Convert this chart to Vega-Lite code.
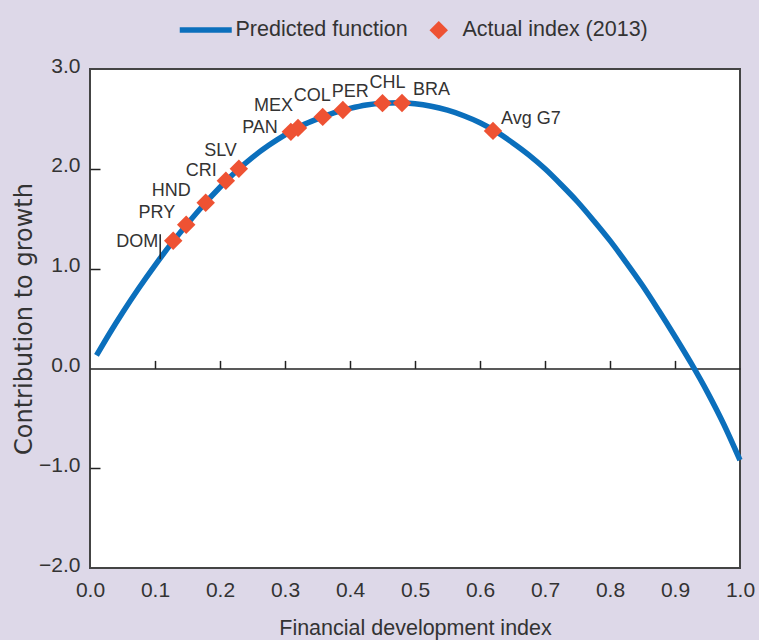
{
  "$schema": "https://vega.github.io/schema/vega-lite/v6.json",
  "width": 650,
  "height": 499,
  "autosize": {"type": "none"},
  "padding": {"left": 90, "top": 69, "right": 19, "bottom": 72},
  "background": "#ddd8e8",
  "config": {
    "view": {"fill": "#ffffff", "stroke": "#444444", "strokeWidth": 2},
    "text": {"font": "Liberation Sans"}
  },
  "datasets": {
    "curve": [
      {"x": 0.01, "y": 0.13, "series": "Predicted function"},
      {"x": 0.03, "y": 0.35, "series": "Predicted function"},
      {"x": 0.05, "y": 0.558, "series": "Predicted function"},
      {"x": 0.075, "y": 0.803, "series": "Predicted function"},
      {"x": 0.1, "y": 1.033, "series": "Predicted function"},
      {"x": 0.125, "y": 1.25, "series": "Predicted function"},
      {"x": 0.15, "y": 1.45, "series": "Predicted function"},
      {"x": 0.175, "y": 1.64, "series": "Predicted function"},
      {"x": 0.2, "y": 1.815, "series": "Predicted function"},
      {"x": 0.225, "y": 1.975, "series": "Predicted function"},
      {"x": 0.25, "y": 2.115, "series": "Predicted function"},
      {"x": 0.275, "y": 2.235, "series": "Predicted function"},
      {"x": 0.3, "y": 2.34, "series": "Predicted function"},
      {"x": 0.325, "y": 2.43, "series": "Predicted function"},
      {"x": 0.35, "y": 2.5, "series": "Predicted function"},
      {"x": 0.375, "y": 2.56, "series": "Predicted function"},
      {"x": 0.4, "y": 2.605, "series": "Predicted function"},
      {"x": 0.425, "y": 2.64, "series": "Predicted function"},
      {"x": 0.45, "y": 2.658, "series": "Predicted function"},
      {"x": 0.475, "y": 2.662, "series": "Predicted function"},
      {"x": 0.5, "y": 2.652, "series": "Predicted function"},
      {"x": 0.525, "y": 2.627, "series": "Predicted function"},
      {"x": 0.55, "y": 2.587, "series": "Predicted function"},
      {"x": 0.575, "y": 2.532, "series": "Predicted function"},
      {"x": 0.6, "y": 2.462, "series": "Predicted function"},
      {"x": 0.625, "y": 2.372, "series": "Predicted function"},
      {"x": 0.65, "y": 2.262, "series": "Predicted function"},
      {"x": 0.675, "y": 2.14, "series": "Predicted function"},
      {"x": 0.7, "y": 2.0, "series": "Predicted function"},
      {"x": 0.725, "y": 1.84, "series": "Predicted function"},
      {"x": 0.75, "y": 1.67, "series": "Predicted function"},
      {"x": 0.775, "y": 1.48, "series": "Predicted function"},
      {"x": 0.8, "y": 1.28, "series": "Predicted function"},
      {"x": 0.825, "y": 1.06, "series": "Predicted function"},
      {"x": 0.85, "y": 0.83, "series": "Predicted function"},
      {"x": 0.875, "y": 0.58, "series": "Predicted function"},
      {"x": 0.9, "y": 0.32, "series": "Predicted function"},
      {"x": 0.925, "y": 0.05, "series": "Predicted function"},
      {"x": 0.95, "y": -0.24, "series": "Predicted function"},
      {"x": 0.975, "y": -0.56, "series": "Predicted function"},
      {"x": 1.0, "y": -0.92, "series": "Predicted function"}
    ],
    "countries": [
      {"code": "DOM", "x": 0.128, "y": 1.28, "series": "Actual index (2013)"},
      {"code": "PRY", "x": 0.148, "y": 1.44, "series": "Actual index (2013)"},
      {"code": "HND", "x": 0.178, "y": 1.66, "series": "Actual index (2013)"},
      {"code": "CRI", "x": 0.209, "y": 1.88, "series": "Actual index (2013)"},
      {"code": "SLV", "x": 0.229, "y": 2.0, "series": "Actual index (2013)"},
      {"code": "PAN", "x": 0.309, "y": 2.37, "series": "Actual index (2013)"},
      {"code": "MEX", "x": 0.32, "y": 2.41, "series": "Actual index (2013)"},
      {"code": "COL", "x": 0.358, "y": 2.52, "series": "Actual index (2013)"},
      {"code": "PER", "x": 0.389, "y": 2.59, "series": "Actual index (2013)"},
      {"code": "CHL", "x": 0.45, "y": 2.658, "series": "Actual index (2013)"},
      {"code": "BRA", "x": 0.48, "y": 2.66, "series": "Actual index (2013)"},
      {"code": "Avg G7", "x": 0.62, "y": 2.38, "series": "Actual index (2013)"}
    ]
  },
  "resolve": {"axis": {"x": "independent", "y": "independent"}},
  "layer": [
    {
      "data": {"name": "curve"},
      "mark": {"type": "line", "strokeWidth": 5.5, "interpolate": "monotone"},
      "encoding": {
        "x": {"field": "x", "type": "quantitative", "scale": {"domain": [0, 1], "nice": false},
          "axis": {"orient": "bottom", "values": [0, 0.1, 0.2, 0.3, 0.4, 0.5, 0.6, 0.7, 0.8, 0.9, 1.0], "format": ".1f",
            "grid": false, "ticks": false, "domain": false, "labelFlush": false, "labelOverlap": false,
            "labelFont": "Liberation Sans", "labelFontSize": 21, "labelColor": "#333333", "labelPadding": 11,
            "title": "Financial development index", "titleFont": "Liberation Sans", "titleFontSize": 21.5,
            "titleFontWeight": "normal", "titleColor": "#333333", "titlePadding": 17}},
        "y": {"field": "y", "type": "quantitative", "scale": {"domain": [-2, 3], "nice": false},
          "axis": {"orient": "left", "values": [-2, -1, 0, 1, 2, 3], "format": ".1f",
            "grid": false, "ticks": false, "domain": false, "labelOverlap": false, "labelFlush": false,
            "labelFont": "Liberation Sans", "labelFontSize": 21, "labelColor": "#333333", "labelPadding": 10,
            "labelOffset": -3,
            "title": "Contribution to growth", "titleFont": "DejaVu Sans", "titleFontSize": 24,
            "titleFontWeight": "normal", "titleColor": "#333333", "titlePadding": 2}},
        "color": {"field": "series", "type": "nominal",
          "scale": {"domain": ["Predicted function", "Actual index (2013)"], "range": ["#0b6fbc", "#ee5233"]},
          "legend": {"orient": "none", "legendX": 105, "legendY": -50, "direction": "horizontal", "title": null,
            "labelFont": "Liberation Sans", "labelFontSize": 21.5, "labelColor": "#333333", "labelOffset": 6,
            "labelLimit": 0, "columnPadding": 20, "padding": 0, "symbolStrokeWidth": 5,
            "encode": {
              "symbols": {"update": {
                "fill": {"scale": "color", "field": "value"},
                "stroke": {"scale": "color", "field": "value"},
                "opacity": {"value": 1},
                "strokeWidth": {"signal": "datum.value === 'Predicted function' ? 5.5 : 0"}}},
              "labels": {"update": {
                "dx": {"signal": "datum.value === 'Predicted function' ? 13 : 7"}}}}}}
      }
    },
    {
      "data": {"name": "countries"},
      "mark": {"type": "point", "filled": true, "opacity": 1},
      "encoding": {
        "x": {"field": "x", "type": "quantitative",
          "axis": {"orient": "top", "offset": -299.4, "values": [0.1, 0.2, 0.3, 0.4, 0.5, 0.6, 0.7, 0.8, 0.9],
            "labels": false, "title": null, "grid": false, "domain": true, "domainColor": "#222222", "domainWidth": 1.5,
            "ticks": true, "tickSize": 8, "tickColor": "#222222", "tickWidth": 1.5}},
        "y": {"field": "y", "type": "quantitative",
          "axis": {"orient": "right", "offset": -650, "values": [-1, 1, 2],
            "labels": false, "title": null, "grid": false, "domain": false,
            "ticks": true, "tickSize": 10, "tickColor": "#222222", "tickWidth": 1.5}},
        "color": {"field": "series", "type": "nominal"},
        "shape": {"field": "series", "type": "nominal",
          "scale": {"domain": ["Predicted function", "Actual index (2013)"], "range": ["stroke", "diamond"]}},
        "size": {"field": "series", "type": "nominal",
          "scale": {"domain": ["Predicted function", "Actual index (2013)"], "range": [2704, 340]}}
      }
    },
    {
      "data": {"name": "countries"},
      "transform": [{"filter": "datum.code === 'DOM'"}],
      "mark": {"type": "tick", "orient": "vertical", "thickness": 1.5, "size": 25, "color": "#222222", "opacity": 1, "xOffset": -13, "yOffset": 6},
      "encoding": {
        "x": {"field": "x", "type": "quantitative", "axis": null},
        "y": {"field": "y", "type": "quantitative", "axis": null}
      }
    },
    {"data": {"name": "countries"}, "transform": [{"filter": "datum.code === 'DOM'"}],
      "mark": {"type": "text", "align": "right", "baseline": "middle", "dx": -15, "dy": 1, "fontSize": 18, "color": "#333333"},
      "encoding": {"x": {"field": "x", "type": "quantitative", "axis": null}, "y": {"field": "y", "type": "quantitative", "axis": null}, "text": {"field": "code"}}},
    {"data": {"name": "countries"}, "transform": [{"filter": "datum.code === 'PRY'"}],
      "mark": {"type": "text", "align": "right", "baseline": "middle", "dx": -11, "dy": -12, "fontSize": 18, "color": "#333333"},
      "encoding": {"x": {"field": "x", "type": "quantitative", "axis": null}, "y": {"field": "y", "type": "quantitative", "axis": null}, "text": {"field": "code"}}},
    {"data": {"name": "countries"}, "transform": [{"filter": "datum.code === 'HND'"}],
      "mark": {"type": "text", "align": "right", "baseline": "middle", "dx": -15, "dy": -12, "fontSize": 18, "color": "#333333"},
      "encoding": {"x": {"field": "x", "type": "quantitative", "axis": null}, "y": {"field": "y", "type": "quantitative", "axis": null}, "text": {"field": "code"}}},
    {"data": {"name": "countries"}, "transform": [{"filter": "datum.code === 'CRI'"}],
      "mark": {"type": "text", "align": "right", "baseline": "middle", "dx": -9, "dy": -10, "fontSize": 18, "color": "#333333"},
      "encoding": {"x": {"field": "x", "type": "quantitative", "axis": null}, "y": {"field": "y", "type": "quantitative", "axis": null}, "text": {"field": "code"}}},
    {"data": {"name": "countries"}, "transform": [{"filter": "datum.code === 'SLV'"}],
      "mark": {"type": "text", "align": "right", "baseline": "middle", "dx": -2, "dy": -18, "fontSize": 18, "color": "#333333"},
      "encoding": {"x": {"field": "x", "type": "quantitative", "axis": null}, "y": {"field": "y", "type": "quantitative", "axis": null}, "text": {"field": "code"}}},
    {"data": {"name": "countries"}, "transform": [{"filter": "datum.code === 'PAN'"}],
      "mark": {"type": "text", "align": "right", "baseline": "middle", "dx": -13, "dy": -4, "fontSize": 18, "color": "#333333"},
      "encoding": {"x": {"field": "x", "type": "quantitative", "axis": null}, "y": {"field": "y", "type": "quantitative", "axis": null}, "text": {"field": "code"}}},
    {"data": {"name": "countries"}, "transform": [{"filter": "datum.code === 'MEX'"}],
      "mark": {"type": "text", "align": "right", "baseline": "middle", "dx": -5, "dy": -22, "fontSize": 18, "color": "#333333"},
      "encoding": {"x": {"field": "x", "type": "quantitative", "axis": null}, "y": {"field": "y", "type": "quantitative", "axis": null}, "text": {"field": "code"}}},
    {"data": {"name": "countries"}, "transform": [{"filter": "datum.code === 'COL'"}],
      "mark": {"type": "text", "align": "right", "baseline": "middle", "dx": 8, "dy": -21, "fontSize": 18, "color": "#333333"},
      "encoding": {"x": {"field": "x", "type": "quantitative", "axis": null}, "y": {"field": "y", "type": "quantitative", "axis": null}, "text": {"field": "code"}}},
    {"data": {"name": "countries"}, "transform": [{"filter": "datum.code === 'PER'"}],
      "mark": {"type": "text", "align": "left", "baseline": "middle", "dx": -11, "dy": -18, "fontSize": 18, "color": "#333333"},
      "encoding": {"x": {"field": "x", "type": "quantitative", "axis": null}, "y": {"field": "y", "type": "quantitative", "axis": null}, "text": {"field": "code"}}},
    {"data": {"name": "countries"}, "transform": [{"filter": "datum.code === 'CHL'"}],
      "mark": {"type": "text", "align": "left", "baseline": "middle", "dx": -13, "dy": -20, "fontSize": 18, "color": "#333333"},
      "encoding": {"x": {"field": "x", "type": "quantitative", "axis": null}, "y": {"field": "y", "type": "quantitative", "axis": null}, "text": {"field": "code"}}},
    {"data": {"name": "countries"}, "transform": [{"filter": "datum.code === 'BRA'"}],
      "mark": {"type": "text", "align": "left", "baseline": "middle", "dx": 11, "dy": -13, "fontSize": 18, "color": "#333333"},
      "encoding": {"x": {"field": "x", "type": "quantitative", "axis": null}, "y": {"field": "y", "type": "quantitative", "axis": null}, "text": {"field": "code"}}},
    {"data": {"name": "countries"}, "transform": [{"filter": "datum.code === 'Avg G7'"}],
      "mark": {"type": "text", "align": "left", "baseline": "middle", "dx": 8, "dy": -12, "fontSize": 18, "color": "#333333"},
      "encoding": {"x": {"field": "x", "type": "quantitative", "axis": null}, "y": {"field": "y", "type": "quantitative", "axis": null}, "text": {"field": "code"}}}
  ]
}
